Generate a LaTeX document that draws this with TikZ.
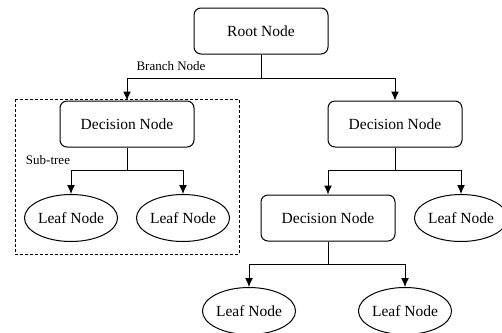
\documentclass[tikz,border=0pt]{standalone}
\usepackage{fontspec}
\setmainfont{Liberation Serif}
\usetikzlibrary{arrows.meta,shapes.geometric}

\begin{document}
\begin{tikzpicture}[x=1pt, y=-1pt, line width=1pt, box/.style={draw, rounded corners=7pt, minimum width=134pt, minimum height=46pt, inner sep=0pt, font=\fontsize{15.5}{18}\selectfont}, leaf/.style={draw, ellipse, minimum width=90pt, minimum height=47pt, inner sep=0pt, font=\fontsize{15.5}{18}\selectfont}, lbl/.style={font=\fontsize{13}{15}\selectfont, inner sep=0pt}, arr/.style={-{Latex[length=9pt, width=8pt]}}]
\useasboundingbox (0,0) rectangle (502,332);
% sub-tree frame
\draw[dash pattern=on 3pt off 2pt] (15,99) rectangle (239,254);
\node[lbl] (sub) at (48,160) {Sub-tree};
\node[box] (root) at (261,31) {Root Node};
\node[lbl] (br) at (171,66) {Branch Node};
\node[box] (d1) at (127,124) {Decision Node};
\node[box] (d2) at (395,124) {Decision Node};
\node[leaf] (l1) at (71,218) {Leaf Node};
\node[leaf] (l2) at (183,218) {Leaf Node};
\node[box] (d3) at (328,218) {Decision Node};
\node[leaf] (l3) at (461,218) {Leaf Node};
\node[leaf] (l4) at (249,311) {Leaf Node};
\node[leaf] (l5) at (405,311) {Leaf Node};
\draw[arr] (root.south) -- ++(0,24) -| (d1.north);
\draw[arr] (root.south) -- ++(0,24) -| (d2.north);
\draw[arr] (d1.south) -- ++(0,23) -| (l1.north);
\draw[arr] (d1.south) -- ++(0,23) -| (l2.north);
\draw[arr] (d2.south) -- ++(0,23) -| (d3.north);
\draw[arr] (d2.south) -- ++(0,23) -| (l3.north);
\draw[arr] (d3.south) -- ++(0,23) -| (l4.north);
\draw[arr] (d3.south) -- ++(0,23) -| (l5.north);
\end{tikzpicture}
\end{document}
